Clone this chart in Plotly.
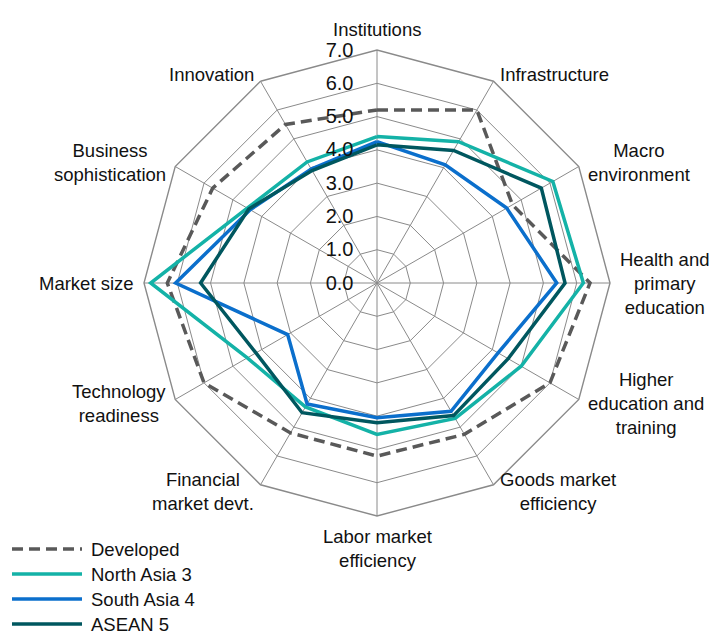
import math
import plotly.graph_objects as go

categories = [
    "Institutions", "Infrastructure", "Macro environment",
    "Health and primary education", "Higher education and training",
    "Goods market efficiency", "Labor market efficiency",
    "Financial market devt.", "Technology readiness", "Market size",
    "Business sophistication", "Innovation",
]
# label text as shown on the chart (wrapped)
category_labels = [
    "Institutions", "Infrastructure", "Macro<br>environment",
    "Health and<br>primary<br>education", "Higher<br>education and<br>training",
    "Goods market<br>efficiency", "Labor market<br>efficiency",
    "Financial<br>market devt.", "Technology<br>readiness", "Market size",
    "Business<br>sophistication", "Innovation",
]

developed = [5.2, 6.0, 4.7, 6.4, 6.0, 5.25, 5.2, 5.2, 6.0, 6.3, 5.7, 5.5]
north_asia_3 = [4.4, 4.9, 6.1, 6.2, 5.0, 4.7, 4.55, 4.3, 4.5, 6.8, 4.5, 4.2]
south_asia_4 = [4.25, 4.1, 4.5, 5.4, 4.2, 4.45, 4.05, 4.2, 3.1, 6.05, 4.4, 3.95]
asean_5 = [4.15, 4.6, 5.7, 5.65, 4.55, 4.6, 4.2, 4.5, 4.2, 5.3, 4.45, 3.9]

radial_ticks = [0, 1, 2, 3, 4, 5, 6, 7]

series = [
    ("Developed", developed, "#595959", "11px,6px"),
    ("North Asia 3", north_asia_3, "#14b2a7", "solid"),
    ("South Asia 4", south_asia_4, "#0b6fcc", "solid"),
    ("ASEAN 5", asean_5, "#00575f", "solid"),
]

FONT = "Liberation Sans, Arial, sans-serif"
W, H = 728, 634
OFF = 8  # page body margin shifts the figure by 8px
side = 466
L, T = 144 - OFF, 50 - OFF
R, B = W - L - side, H - T - side

fig = go.Figure()
for name, vals, color, dash in series:
    fig.add_trace(go.Scatterpolar(
        r=vals + vals[:1],
        theta=categories + categories[:1],
        mode="lines",
        name=name,
        showlegend=False,
        line=dict(color=color, width=3.5, dash=dash),
    ))

# category labels, centred text just outside each vertex (Excel style)
pad = 8 / side
n = len(categories)
for i, lab in enumerate(category_labels):
    a = math.radians(i * 360 / n)
    s, c = math.sin(a), math.cos(a)
    if abs(s) < 1e-6:
        xa, ya = "center", ("bottom" if c > 0 else "top")
    else:
        xa, ya = ("left" if s > 0 else "right"), "middle"
    fig.add_annotation(
        x=0.5 + (0.5 + pad) * s, y=0.5 + (0.5 + pad) * c,
        xref="paper", yref="paper", text=lab, showarrow=False,
        xanchor=xa, yanchor=ya, align="center",
        font=dict(family=FONT, size=18.5, color="#111111"),
    )

# legend drawn by hand so the line samples are as long as in the original
leg_x0, leg_x1, leg_text = 12, 82, 89
leg_y0, leg_step = 549, 25
for k, (name, vals, color, dash) in enumerate(series):
    yy = (H - B - (leg_y0 - OFF + k * leg_step)) / side
    fig.add_shape(
        type="line", xref="paper", yref="paper",
        x0=(leg_x0 - OFF - L) / side, x1=(leg_x1 - OFF - L) / side, y0=yy, y1=yy,
        line=dict(color=color, width=3.5, dash=dash),
    )
    fig.add_annotation(
        x=(leg_text - OFF - L) / side, y=yy, xref="paper", yref="paper",
        text=name, showarrow=False, xanchor="left", yanchor="middle",
        font=dict(family=FONT, size=18.5, color="#111111"),
    )

fig.update_layout(
    width=W, height=H,
    margin=dict(l=L, r=R, t=T, b=B, autoexpand=False),
    paper_bgcolor="white",
    showlegend=False,
    font=dict(family=FONT, size=18, color="#111111"),
    polar=dict(
        bgcolor="white",
        gridshape="linear",
        angularaxis=dict(
            direction="clockwise", rotation=90,
            gridcolor="#8a8a8a", gridwidth=1.4,
            linecolor="#8a8a8a", linewidth=1.4,
            ticks="", showticklabels=False,
        ),
        radialaxis=dict(
            range=[0, 7], tickvals=radial_ticks, tickformat=".1f",
            angle=90, tickangle=90, side="counterclockwise",
            gridcolor="#8a8a8a", gridwidth=1.4,
            showline=False, ticks="outside", ticklen=16,
            tickcolor="rgba(0,0,0,0)",
            tickfont=dict(family=FONT, size=20, color="#111111"),
        ),
    ),
)

fig.write_html("out.html")
